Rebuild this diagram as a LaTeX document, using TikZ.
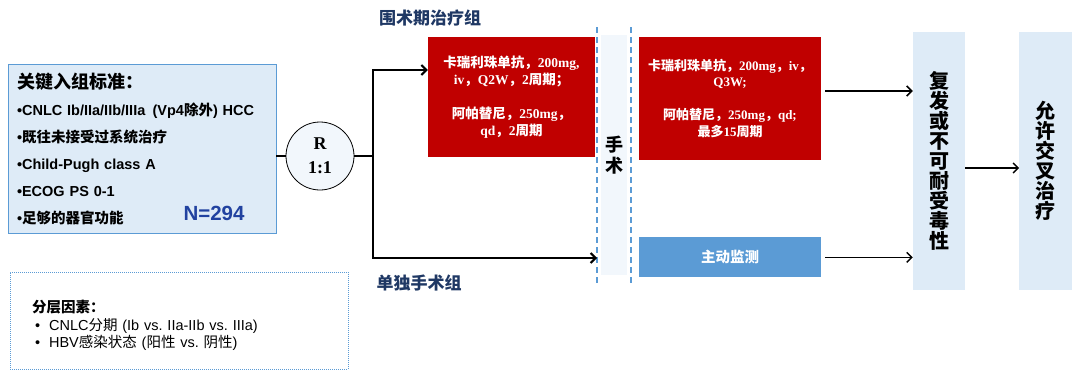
\documentclass[tikz,border=0pt]{standalone}
\usepackage{fontspec}
\setmainfont{Liberation Sans}
\newfontfamily\zh{Noto Sans CJK SC}
\newfontfamily\tms{Liberation Serif}
\usepackage{tikz}
\usetikzlibrary{positioning,arrows.meta,calc}
\definecolor{rsPale}{HTML}{DEEBF7}
\definecolor{rsEdge}{HTML}{5B9BD5}
\definecolor{rsRed}{HTML}{C00000}
\definecolor{rsNavy}{HTML}{1F3864}
\definecolor{rsCount}{HTML}{2142A0}
\definecolor{rsBand}{HTML}{F2F7FC}
\newcommand{\cn}[1]{{\zh #1}}
\frenchspacing
\tikzset{
    rsBoxBase/.style={
        rectangle,
        inner sep=4pt,
        align=center
    },
    % Semantic Variants
    rsCrit/.style={rsBoxBase, draw=rsEdge, fill=rsPale, line width=0.8pt,
        minimum width=268pt, minimum height=169pt, inner xsep=9pt,
        text width=250pt, align=left, font=\bfseries\fontsize{14.5}{27}\selectfont},
    rsRedBox/.style={rsBoxBase, fill=rsRed, text=white,
        font=\tms\bfseries\fontsize{13.5}{17}\selectfont},
    rsMonitor/.style={rsBoxBase, fill=rsEdge, text=white, minimum width=182pt,
        minimum height=40pt, font=\zh\bfseries\fontsize{14.5}{17}\selectfont},
    rsTall/.style={rsBoxBase, fill=rsPale, minimum width=52pt, minimum height=258pt,
        font=\zh\bfseries\fontsize{20}{20}\selectfont},
    rsBandBox/.style={rsBoxBase, fill=rsBand, minimum width=26pt, minimum height=240pt,
        font=\zh\bfseries\fontsize{18}{21}\selectfont},
    rsRand/.style={circle, draw=black, line width=0.8pt, fill=rsBand, minimum size=68pt,
        inner sep=0pt, align=center, font=\tms\bfseries\fontsize{18}{24}\selectfont},
    rsStrat/.style={rsBoxBase, draw=rsEdge, line width=0.9pt, dash pattern=on 1pt off 1pt,
        minimum width=338pt, minimum height=97pt, inner xsep=22pt, text width=294pt,
        align=left, font=\fontsize{14.5}{17.5}\selectfont},
    rsGroup/.style={text=rsNavy, font=\zh\bfseries\fontsize{17}{20}\selectfont},
    rsCount/.style={text=rsCount, font=\bfseries\fontsize{20.5}{24}\selectfont},
    % Lines
    rsCut/.style={draw=rsEdge, line width=1.6pt, dash pattern=on 6pt off 4pt},
    rsBranch/.style={line width=2pt, draw=black, -{Straight Barb[length=5pt,width=10pt]}},
    rsArrow/.style={line width=1.5pt, draw=black, -{Straight Barb[length=5pt,width=10pt]}}
}
\begin{document}
\begin{tikzpicture}[x=1pt, y=-1pt]
\useasboundingbox (0,0) rectangle (1080,378);
\node[rsCrit] (crit) at (142,148.5) {%
    {\fontsize{18}{27}\selectfont\cn{关键入组标准：}}\\
    •CNLC Ib/IIa/IIb/IIIa\enspace(Vp4\cn{除外}) HCC\\
    •\cn{既往未接受过系统治疗}\\
    •Child-Pugh class A\\
    •ECOG PS 0-1\\
    •\cn{足够的器官功能}};
\node[rsCount] (nCount) at (214,213) {N=294};
\node[rsRand] (rnd) at (320,156) {R\\1:1};
\coordinate (split) at (373,156);
\coordinate (topY) at (0,70);
\coordinate (botY) at (0,258);
\coordinate (cutL) at (597,27);
\coordinate (cutR) at (631,27);

% treatment arms
\node[rsRedBox, minimum width=167pt, minimum height=120pt] (periA) at (511.5,97) {%
    \cn{卡瑞利珠单抗，}200mg,\\
    iv\cn{，}Q2W\cn{，}2\cn{周期；}\\[17pt]
    \cn{阿帕替尼，}250mg\cn{，}\\
    qd\cn{，}2\cn{周期}};
\node[rsBandBox] (surg) at (614,155) {手\\术};
\draw[rsCut] (cutL) -- ++(0,258);
\draw[rsCut] (cutR) -- ++(0,258);
\node[rsRedBox, minimum width=182pt, minimum height=123pt,
    font=\tms\bfseries\fontsize{13}{16.5}\selectfont] (periB) at (730,98.5) {%
    \cn{卡瑞利珠单抗，}200mg\cn{，}iv\cn{，}\\
    Q3W;\\[16.5pt]
    \cn{阿帕替尼，}250mg\cn{，}qd;\\
    \cn{最多}15\cn{周期}};
\node[rsMonitor, below=77pt of periB] (monitor) {主动监测};
\node[rsGroup] (periLbl) at (430,18) {围术期治疗组};
\node[rsGroup] (soloLbl) at (419,283) {单独手术组};

% outcome columns
\node[rsTall] (outcome) at (939,161) {复\\发\\或\\不\\可\\耐\\受\\毒\\性};
\node[rsTall, minimum width=53pt, right=54pt of outcome] (cross) {允\\许\\交\\叉\\治\\疗};

\node[rsStrat] (strat) at (179,320.5) {%
    \rule{0pt}{22pt}{\bfseries\cn{分层因素：}}\\
    \hspace*{3pt}•\hspace{9pt}CNLC\cn{分期} (Ib vs. IIa-IIb vs. IIIa)\\
    \hspace*{3pt}•\hspace{9pt}HBV\cn{感染状态} (\cn{阳性} vs. \cn{阴性})};

% connectors
\draw[line width=2pt] (rnd.west -| crit.east) -- (rnd.west);
\draw[line width=2pt] (rnd.east) -- (split);
\draw[rsBranch] (split) |- (periA.west |- topY);
\draw[rsBranch] (split) |- (cutL |- botY);
\coordinate (tA) at ([shift={(4,-7.5)}]periB.east);
\draw[rsArrow] (tA) -- (tA -| outcome.west);
\draw[rsArrow] ([xshift=4pt]monitor.east) -- (monitor.east -| outcome.west);
\coordinate (tC) at ([shift={(0,7)}]outcome.east);
\draw[rsArrow] (tC) -- (tC -| cross.west);
\end{tikzpicture}
\end{document}
